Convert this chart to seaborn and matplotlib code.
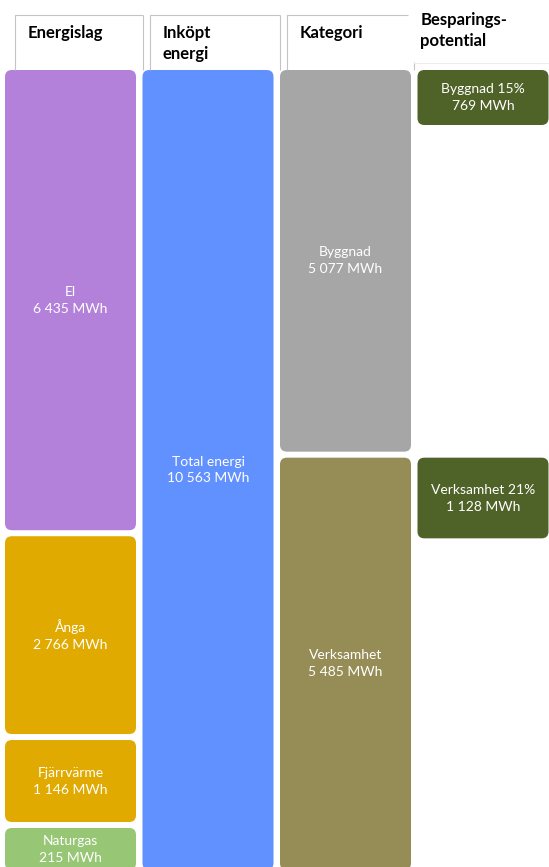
import matplotlib.pyplot as plt
import numpy as np
import pandas as pd
import seaborn as sns
from matplotlib.patches import FancyBboxPatch

# rubriker per kolumn
rubriker = ["Energislag", "Inköpt\nenergi", "Kategori", "Besparings-\npotential"]

# energislag
energislag = ["El", "Ånga", "Fjärrvärme", "Naturgas"]
energi_mwh = [6435, 2766, 1146, 215]
energi_farg = ["#B381DA", "#E1AA00", "#E1AA00", "#97C675"]

# inköpt energi
total_namn = ["Total energi"]
total_mwh = [10563]
total_farg = ["#6190FF"]

# kategori
kategorier = ["Byggnad", "Verksamhet"]
kategori_mwh = [5077, 5485]
kategori_farg = ["#A6A6A6", "#958C56"]

# besparingspotential
besparing_pct = [15, 21]
besparing_mwh = [769, 1128]
besparing_farg = "#4F6228"

GAP = 6 / 800          # mellanrum mellan block
MIN_H = 42 / 800       # minsta blockhöjd så att texten får plats
BRED = 131 / 137.5     # blockbredd


def py(px):
    # pixelrad -> y i axelns enheter (layout)
    return (px - 70) / 800


def fmt(v):
    return f"{v:,}".replace(",", " ")


def stapla(varden, min_h=0.0):
    v = pd.Series(varden, dtype=float)
    fyll = 1 - GAP * (len(v) - 1)
    h = v / v.sum() * fyll
    liten = h < min_h
    h[liten] = min_h
    skala = (fyll - h[liten].sum()) / v[~liten].sum()
    h[~liten] = v[~liten] * skala
    top = h.cumsum() - h + GAP * np.arange(len(v))
    return top.to_numpy(), h.to_numpy(), skala


def block(ax, x, y, h, farg, text):
    ax.add_patch(FancyBboxPatch((x, y), BRED, h,
                                boxstyle="round,pad=0,rounding_size=0.05",
                                mutation_aspect=0.172, fc=farg, ec="none"))
    ax.text(x + BRED / 2, y + h / 2, text, color="white", fontsize=10,
            ha="center", va="center", linespacing=1.5)


sns.set_theme(style="white")
plt.rcParams["font.family"] = ["Lato", "DejaVu Sans"]

fig = plt.figure(figsize=(5.49, 8.67), dpi=100)
ax = fig.add_axes([0, 0, 1, 1])
ax.set_xlim(-5 / 137.5, 544 / 137.5)
ax.set_ylim(py(867), py(0))
ax.axis("off")

# kolumn 1: energislag
top, h, skala = stapla(energi_mwh, MIN_H)
for namn, v, t, hh, f in zip(energislag, energi_mwh, top, h, energi_farg):
    block(ax, 0, t, hh, f, f"{namn}\n{fmt(v)} MWh")

# kolumn 2: total
t2, h2, _ = stapla(total_mwh)
block(ax, 1, t2[0], h2[0], total_farg[0], f"{total_namn[0]}\n{fmt(total_mwh[0])} MWh")

# kolumn 3: kategori
t3, h3, _ = stapla(kategori_mwh)
for namn, v, t, hh, f in zip(kategorier, kategori_mwh, t3, h3, kategori_farg):
    block(ax, 2, t, hh, f, f"{namn}\n{fmt(v)} MWh")

# kolumn 4: besparing, samma skala som energislag
for namn, p, v, t in zip(kategorier, besparing_pct, besparing_mwh, t3):
    block(ax, 3, t, v * skala, besparing_farg, f"{namn} {p}%\n{fmt(v)} MWh")

# rubrikrutor
linje = dict(color="#C4C4C4", lw=0.8, solid_capstyle="butt")
for i in range(3):
    x0 = i + (0.073 if i == 0 else 0.051)
    x1 = i + 1.0 if i < 2 else i + 0.93
    ax.plot([x0, x0, x1], [0, py(15), py(15)], **linje)
    if i < 2:
        ax.plot([x1, x1], [py(15), 0], **linje)
ax.plot([2.975, 2.975], [py(62), 0], **linje)
ax.plot([2.975, 3.96], [py(63), py(63)], color="#EDEDED", lw=0.8)

for i, rub in enumerate(rubriker[:3]):
    x0 = i + (0.073 if i == 0 else 0.051) + 0.095
    ax.text(x0, py(25), rub, fontsize=12, fontweight="bold", color="black",
            ha="left", va="top", linespacing=1.4)
ax.text(3.02, py(12), rubriker[3], fontsize=12, fontweight="bold", color="black",
        ha="left", va="top", linespacing=1.4)

fig.savefig("out.png", dpi=100)
